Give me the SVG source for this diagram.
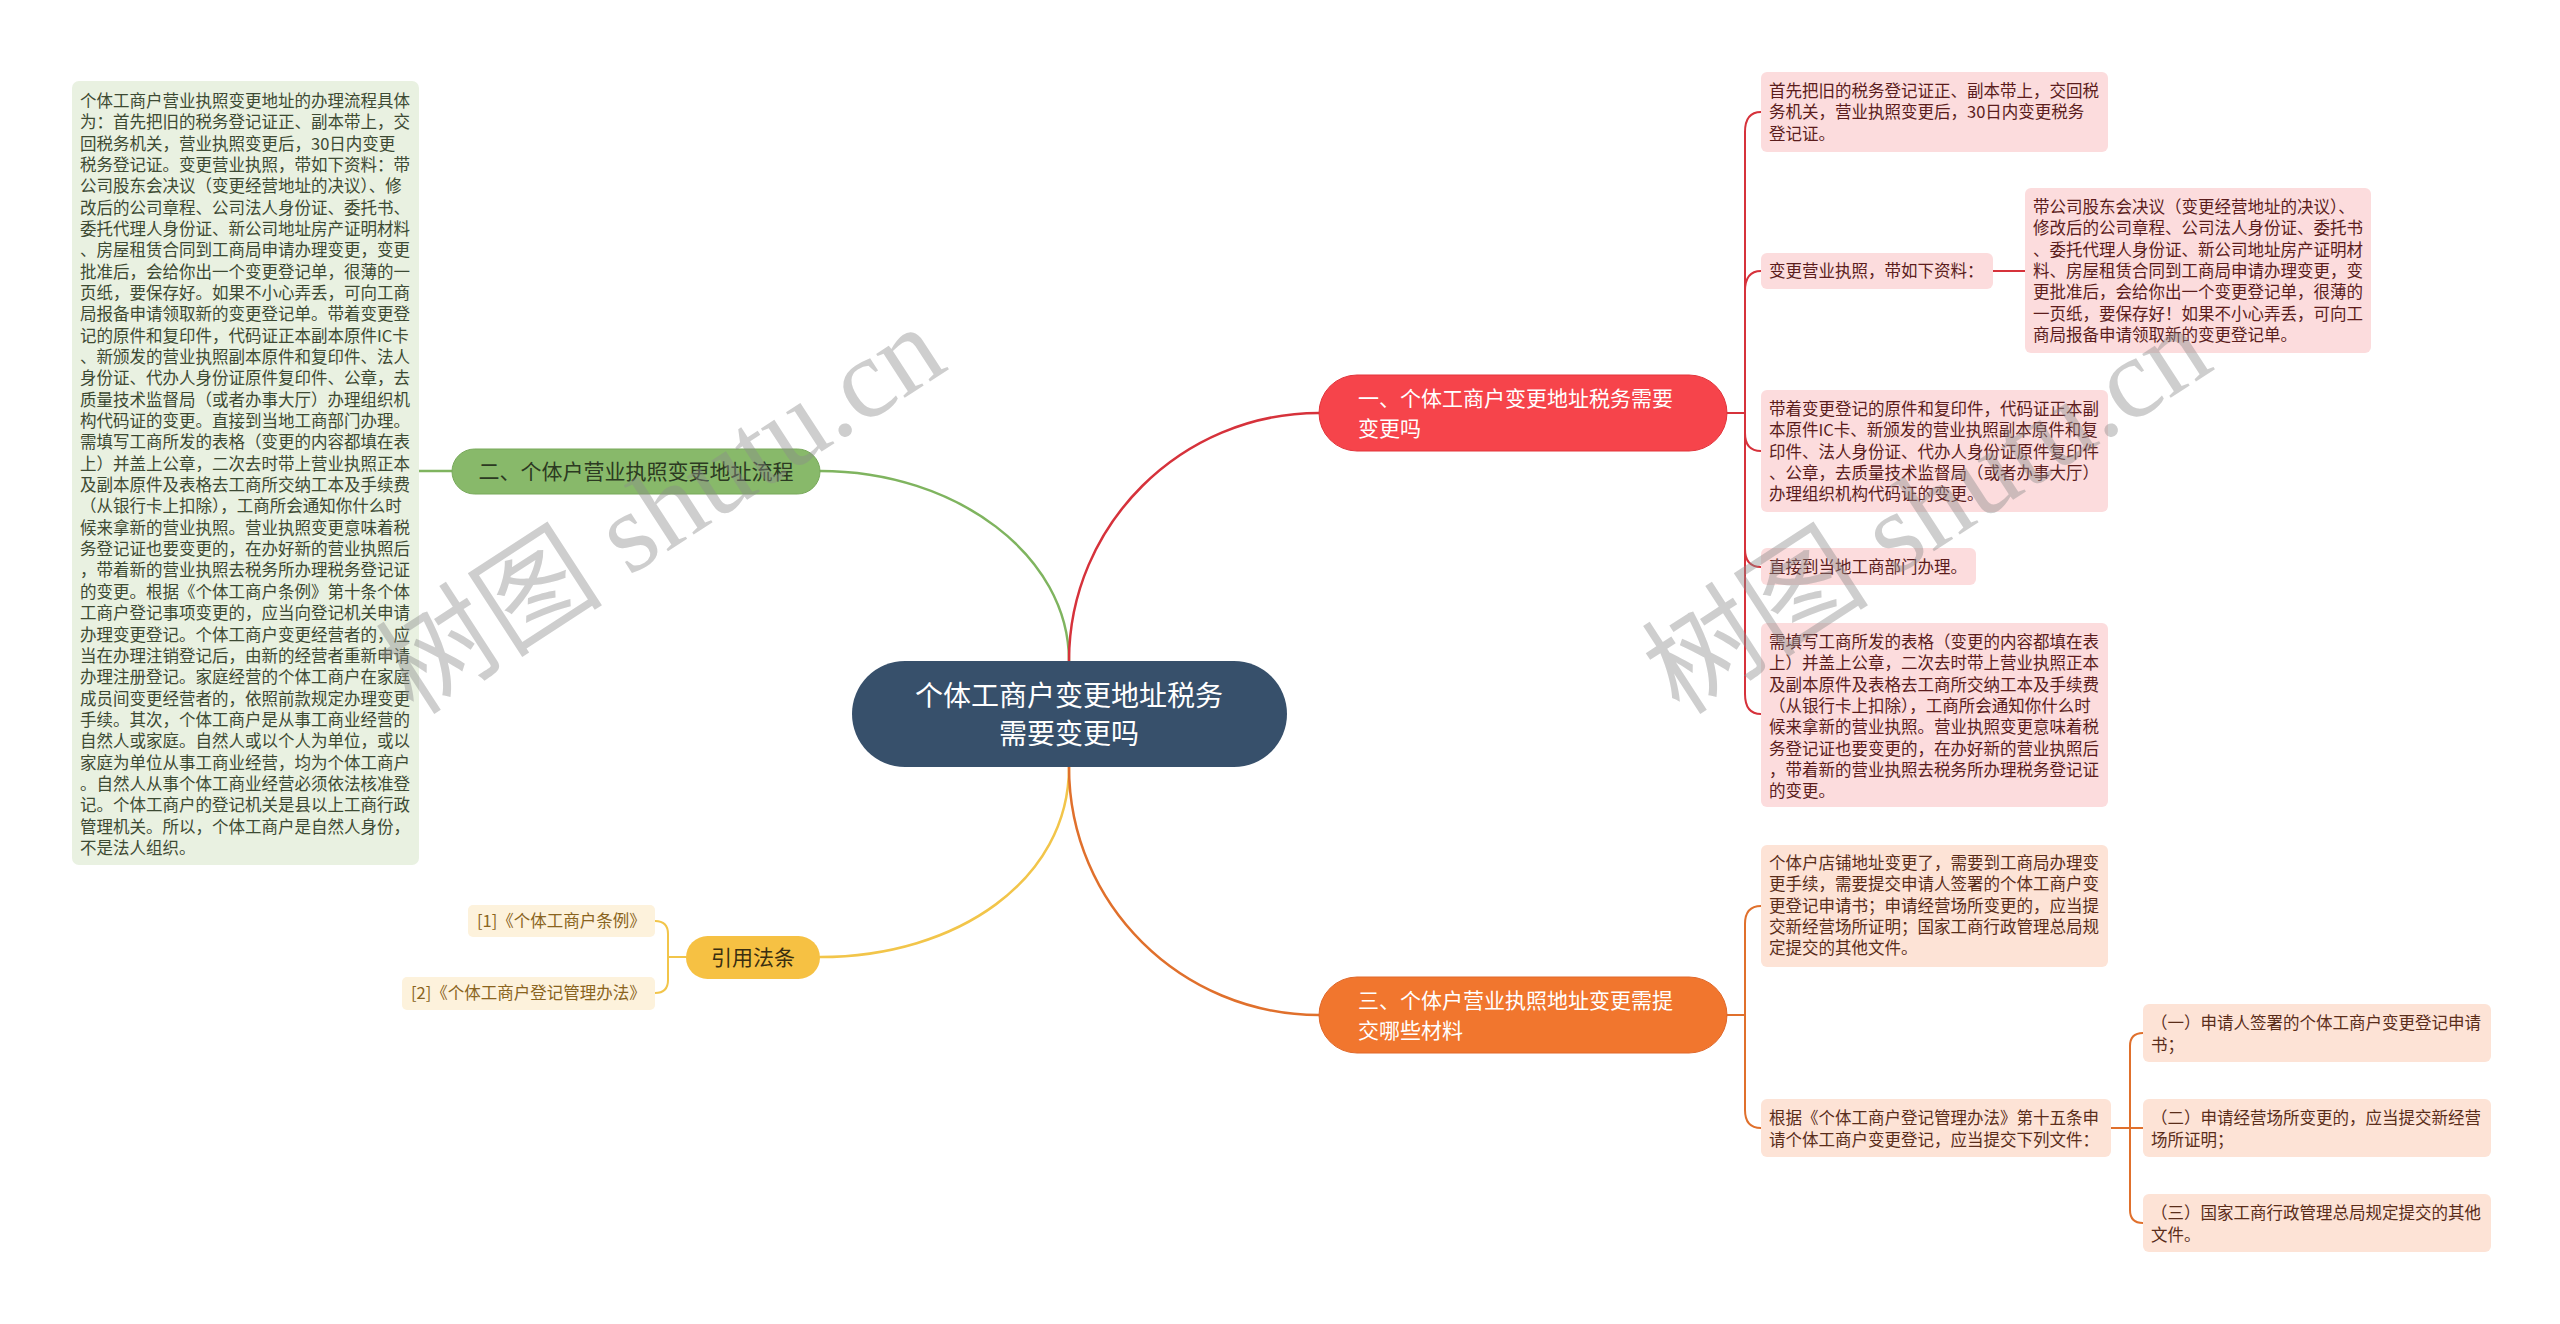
<svg xmlns="http://www.w3.org/2000/svg" width="2560" height="1324" viewBox="0 0 2560 1324">
<style>
text{font-family:"Noto Sans CJK SC","Liberation Sans",sans-serif;}
.s{font-size:16.5px;}
.m{font-size:21px;}
.lg{fill:none;stroke-width:2.5;stroke-linecap:round;}
.sm{fill:none;stroke-width:2;stroke-linecap:round;}
.rb{fill:#fcdcdd;}
.rt{fill:#5b1c1c;}
.ob{fill:#fde3d6;}
.ot{fill:#5a2d1a;}
.wm{font-family:"Liberation Serif","Noto Sans CJK SC",serif;font-size:114px;fill:#8c8c8c;opacity:0.42;}
</style>
<rect width="2560" height="1324" fill="#ffffff"/>

<g id="connectors">
  <path class="lg" stroke="#7fb45f" d="M820 471 C957 471 1069 556 1069 661"/>
  <path class="lg" stroke="#7fb45f" d="M452 471 H419"/>
  <path class="lg" stroke="#d6323b" d="M1069 661 C1069 525 1181 413 1319 413"/>
  <path class="lg" stroke="#f2c54a" d="M1069 767 C1069 880 957 957 820 957"/>
  <path class="lg" stroke="#e0702c" d="M1069 767 C1069 904 1181 1015 1319 1015"/>
  <g stroke="#d6323b">
    <path class="sm" d="M1727 413 H1745"/>
    <path class="sm" d="M1745 413 V132 Q1745 112 1761 112"/>
    <path class="sm" d="M1745 413 V291 Q1745 271 1761 271"/>
    <path class="sm" d="M1745 413 V433 Q1745 451 1761 451"/>
    <path class="sm" d="M1745 413 V549 Q1745 567 1761 567"/>
    <path class="sm" d="M1745 413 V694 Q1745 714 1761 714"/>
    <path class="sm" d="M1993 271 H2025"/>
  </g>
  <g stroke="#e0702c">
    <path class="sm" d="M1727 1015 H1745"/>
    <path class="sm" d="M1745 1015 V924 Q1745 906 1761 906"/>
    <path class="sm" d="M1745 1015 V1110 Q1745 1128 1761 1128"/>
    <path class="sm" d="M2111 1128 H2143"/>
    <path class="sm" d="M2143 1033 Q2130 1033 2130 1046 V1210 Q2130 1223 2143 1223"/>
  </g>
  <g stroke="#f2c54a">
    <path class="sm" d="M686 957 H668"/>
    <path class="sm" d="M655 921 Q668 921 668 934 V980 Q668 993 655 993"/>
  </g>
</g>

<g id="center">
  <rect x="852" y="661" width="435" height="106" rx="53" fill="#37506b"/>
  <text x="1069" y="706" font-size="28" fill="#ffffff" text-anchor="middle">个体工商户变更地址税务<tspan x="1069" y="744">需要变更吗</tspan></text>
</g>

<g id="n1">
  <rect x="1319" y="375" width="408" height="76" rx="38" fill="#f6444b" stroke="#e2343b" stroke-width="1"/>
  <text class="m" x="1358" y="406" fill="#ffffff">一、个体工商户变更地址税务需要<tspan x="1358" y="436">变更吗</tspan></text>
</g>

<g id="n1a">
  <rect class="rb" x="1761" y="72" width="347" height="80" rx="6"/>
  <text class="s rt" x="1769" y="97">首先把旧的税务登记证正、副本带上，交回税<tspan x="1769" dy="21.3">务机关，营业执照变更后，30日内变更税务</tspan><tspan x="1769" dy="21.3">登记证。</tspan></text>
</g>
<g id="n1b">
  <rect class="rb" x="1761" y="253" width="232" height="36" rx="6"/>
  <text class="s rt" x="1769" y="277">变更营业执照，带如下资料：</text>
</g>
<g id="n1b1">
  <rect class="rb" x="2025" y="188" width="346" height="165" rx="6"/>
  <text class="s rt" x="2033" y="213">带公司股东会决议（变更经营地址的决议）、<tspan x="2033" dy="21.3">修改后的公司章程、公司法人身份证、委托书</tspan><tspan x="2033" dy="21.3">、委托代理人身份证、新公司地址房产证明材</tspan><tspan x="2033" dy="21.3">料、房屋租赁合同到工商局申请办理变更，变</tspan><tspan x="2033" dy="21.3">更批准后，会给你出一个变更登记单，很薄的</tspan><tspan x="2033" dy="21.3">一页纸，要保存好！如果不小心弄丢，可向工</tspan><tspan x="2033" dy="21.3">商局报备申请领取新的变更登记单。</tspan></text>
</g>
<g id="n1c">
  <rect class="rb" x="1761" y="390" width="347" height="122" rx="6"/>
  <text class="s rt" x="1769" y="415">带着变更登记的原件和复印件，代码证正本副<tspan x="1769" dy="21.3">本原件IC卡、新颁发的营业执照副本原件和复</tspan><tspan x="1769" dy="21.3">印件、法人身份证、代办人身份证原件复印件</tspan><tspan x="1769" dy="21.3">、公章，去质量技术监督局（或者办事大厅）</tspan><tspan x="1769" dy="21.3">办理组织机构代码证的变更。</tspan></text>
</g>
<g id="n1d">
  <rect class="rb" x="1761" y="548" width="215" height="37" rx="6"/>
  <text class="s rt" x="1769" y="573">直接到当地工商部门办理。</text>
</g>
<g id="n1e">
  <rect class="rb" x="1761" y="623" width="347" height="184" rx="6"/>
  <text class="s rt" x="1769" y="648">需填写工商所发的表格（变更的内容都填在表<tspan x="1769" dy="21.3">上）并盖上公章，二次去时带上营业执照正本</tspan><tspan x="1769" dy="21.3">及副本原件及表格去工商所交纳工本及手续费</tspan><tspan x="1769" dy="21.3">（从银行卡上扣除），工商所会通知你什么时</tspan><tspan x="1769" dy="21.3">候来拿新的营业执照。营业执照变更意味着税</tspan><tspan x="1769" dy="21.3">务登记证也要变更的，在办好新的营业执照后</tspan><tspan x="1769" dy="21.3">，带着新的营业执照去税务所办理税务登记证</tspan><tspan x="1769" dy="21.3">的变更。</tspan></text>
</g>

<g id="n2">
  <rect x="452" y="449" width="368" height="45" rx="22.5" fill="#88b96a" stroke="#78a95b" stroke-width="1"/>
  <text class="m" x="636" y="479" fill="#2c3a22" text-anchor="middle">二、个体户营业执照变更地址流程</text>
</g>
<g id="n2a">
  <rect x="72" y="81" width="347" height="784" rx="7" fill="#e9f1e1"/>
  <text class="s" x="80" y="107" fill="#3d4a33">个体工商户营业执照变更地址的办理流程具体<tspan x="80" dy="21.34">为：首先把旧的税务登记证正、副本带上，交</tspan><tspan x="80" dy="21.34">回税务机关，营业执照变更后，30日内变更</tspan><tspan x="80" dy="21.34">税务登记证。变更营业执照，带如下资料：带</tspan><tspan x="80" dy="21.34">公司股东会决议（变更经营地址的决议）、修</tspan><tspan x="80" dy="21.34">改后的公司章程、公司法人身份证、委托书、</tspan><tspan x="80" dy="21.34">委托代理人身份证、新公司地址房产证明材料</tspan><tspan x="80" dy="21.34">、房屋租赁合同到工商局申请办理变更，变更</tspan><tspan x="80" dy="21.34">批准后，会给你出一个变更登记单，很薄的一</tspan><tspan x="80" dy="21.34">页纸，要保存好。如果不小心弄丢，可向工商</tspan><tspan x="80" dy="21.34">局报备申请领取新的变更登记单。带着变更登</tspan><tspan x="80" dy="21.34">记的原件和复印件，代码证正本副本原件IC卡</tspan><tspan x="80" dy="21.34">、新颁发的营业执照副本原件和复印件、法人</tspan><tspan x="80" dy="21.34">身份证、代办人身份证原件复印件、公章，去</tspan><tspan x="80" dy="21.34">质量技术监督局（或者办事大厅）办理组织机</tspan><tspan x="80" dy="21.34">构代码证的变更。直接到当地工商部门办理。</tspan><tspan x="80" dy="21.34">需填写工商所发的表格（变更的内容都填在表</tspan><tspan x="80" dy="21.34">上）并盖上公章，二次去时带上营业执照正本</tspan><tspan x="80" dy="21.34">及副本原件及表格去工商所交纳工本及手续费</tspan><tspan x="80" dy="21.34">（从银行卡上扣除），工商所会通知你什么时</tspan><tspan x="80" dy="21.34">候来拿新的营业执照。营业执照变更意味着税</tspan><tspan x="80" dy="21.34">务登记证也要变更的，在办好新的营业执照后</tspan><tspan x="80" dy="21.34">，带着新的营业执照去税务所办理税务登记证</tspan><tspan x="80" dy="21.34">的变更。根据《个体工商户条例》第十条个体</tspan><tspan x="80" dy="21.34">工商户登记事项变更的，应当向登记机关申请</tspan><tspan x="80" dy="21.34">办理变更登记。个体工商户变更经营者的，应</tspan><tspan x="80" dy="21.34">当在办理注销登记后，由新的经营者重新申请</tspan><tspan x="80" dy="21.34">办理注册登记。家庭经营的个体工商户在家庭</tspan><tspan x="80" dy="21.34">成员间变更经营者的，依照前款规定办理变更</tspan><tspan x="80" dy="21.34">手续。其次，个体工商户是从事工商业经营的</tspan><tspan x="80" dy="21.34">自然人或家庭。自然人或以个人为单位，或以</tspan><tspan x="80" dy="21.34">家庭为单位从事工商业经营，均为个体工商户</tspan><tspan x="80" dy="21.34">。自然人从事个体工商业经营必须依法核准登</tspan><tspan x="80" dy="21.34">记。个体工商户的登记机关是县以上工商行政</tspan><tspan x="80" dy="21.34">管理机关。所以，个体工商户是自然人身份，</tspan><tspan x="80" dy="21.34">不是法人组织。</tspan></text>
</g>

<g id="n3">
  <rect x="686" y="936" width="134" height="43" rx="21.5" fill="#f6c143"/>
  <text class="m" x="753" y="965" fill="#3a2e10" text-anchor="middle">引用法条</text>
</g>
<g id="n3a">
  <rect x="468" y="905" width="187" height="32" rx="5" fill="#fdf2dc"/>
  <text class="s" x="477" y="927" fill="#8a6420">[1]《个体工商户条例》</text>
</g>
<g id="n3b">
  <rect x="402" y="977" width="253" height="33" rx="5" fill="#fdf2dc"/>
  <text class="s" x="411" y="999" fill="#8a6420">[2]《个体工商户登记管理办法》</text>
</g>

<g id="n4">
  <rect x="1319" y="977" width="408" height="76" rx="38" fill="#f1762e" stroke="#e0682a" stroke-width="1"/>
  <text class="m" x="1358" y="1008" fill="#ffffff">三、个体户营业执照地址变更需提<tspan x="1358" y="1038">交哪些材料</tspan></text>
</g>
<g id="n4a">
  <rect class="ob" x="1761" y="845" width="347" height="122" rx="6"/>
  <text class="s ot" x="1769" y="869">个体户店铺地址变更了，需要到工商局办理变<tspan x="1769" dy="21.3">更手续，需要提交申请人签署的个体工商户变</tspan><tspan x="1769" dy="21.3">更登记申请书；申请经营场所变更的，应当提</tspan><tspan x="1769" dy="21.3">交新经营场所证明；国家工商行政管理总局规</tspan><tspan x="1769" dy="21.3">定提交的其他文件。</tspan></text>
</g>
<g id="n4b">
  <rect class="ob" x="1761" y="1099" width="350" height="58" rx="6"/>
  <text class="s ot" x="1769" y="1124">根据《个体工商户登记管理办法》第十五条申<tspan x="1769" dy="21.5">请个体工商户变更登记，应当提交下列文件：</tspan></text>
</g>
<g id="n4b1">
  <rect class="ob" x="2143" y="1004" width="348" height="58" rx="6"/>
  <text class="s ot" x="2151" y="1029">（一）申请人签署的个体工商户变更登记申请<tspan x="2151" dy="21.5">书；</tspan></text>
</g>
<g id="n4b2">
  <rect class="ob" x="2143" y="1099" width="348" height="58" rx="6"/>
  <text class="s ot" x="2151" y="1124">（二）申请经营场所变更的，应当提交新经营<tspan x="2151" dy="21.5">场所证明；</tspan></text>
</g>
<g id="n4b3">
  <rect class="ob" x="2143" y="1194" width="348" height="58" rx="6"/>
  <text class="s ot" x="2151" y="1219">（三）国家工商行政管理总局规定提交的其他<tspan x="2151" dy="21.5">文件。</tspan></text>
</g>

<g id="watermark">
  <text class="wm" x="661" y="510" text-anchor="middle" dominant-baseline="central" transform="rotate(-33 661 510)">树图 shutu.cn</text>
  <text class="wm" x="1927" y="510" text-anchor="middle" dominant-baseline="central" transform="rotate(-33 1927 510)">树图 shutu.cn</text>
</g>
</svg>
